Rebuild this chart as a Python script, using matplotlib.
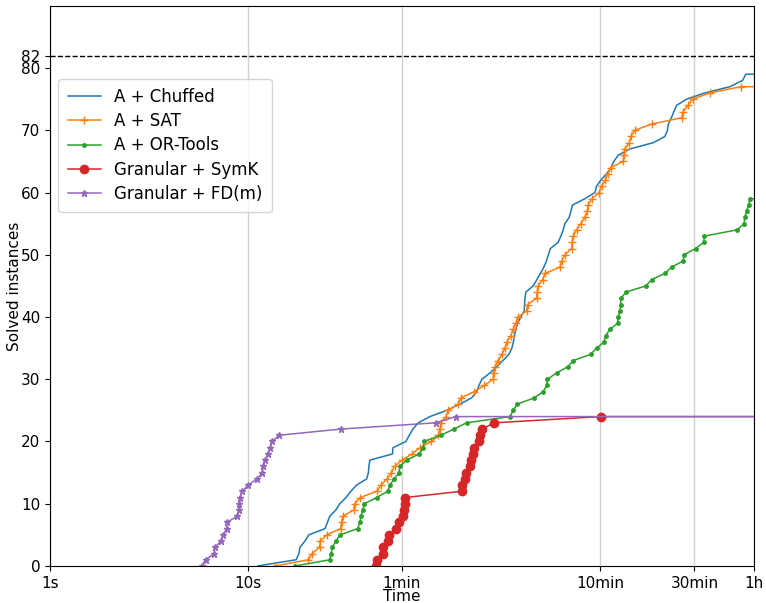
import matplotlib
matplotlib.use("Agg")
import matplotlib.pyplot as plt
from matplotlib.ticker import FixedLocator, NullLocator

# solve times (seconds) of each instance, sorted; the k-th entry is k solved
CHUFFED = [11.2, 17.5, 18.1, 18.3, 19.4, 20.3, 24.5, 25.2, 25.9, 27.8,
           29.1, 31.3, 33.1, 35.4, 39.8, 40.6, 40.8, 41.3, 53.7, 54.0,
           62.8, 65.3, 68.1, 72.5, 83.0, 100.8, 117.7, 134.8, 142.9, 146.8,
           152.0, 166.8, 180.4, 194.1, 208.1, 215.4, 219.2, 221.8, 225.7, 230.2,
           239.2, 248.6, 249.7, 250.6, 253.5, 276.0, 288.1, 300.1, 312.5, 321.8,
           329.4, 337.1, 369.2, 380.9, 391.2, 399.0, 419.5, 427.9, 436.4, 503.5,
           565.5, 576.8, 606.4, 647.8, 681.3, 705.6, 741.7, 849.7, 1114, 1277,
           1315, 1330, 1377, 1418, 1463, 1643, 2033, 2719, 3152, 3275]
SAT = [13.7, 20.2, 21.1, 23.0, 23.2, 25.0, 29.4, 29.7, 30.1, 34.2,
       34.6, 37.0, 44.7, 47.0, 50.4, 53.1, 55.0, 60.0, 67.4, 73.9,
       84.5, 91.6, 93.3, 94.3, 100.0, 102.7, 115.4, 119.1, 139.0, 156.1,
       173.4, 174.2, 176.8, 183.7, 191.8, 198.6, 203.3, 213.0, 218.0, 225.7,
       231.8, 255.6, 258.6, 287.1, 289.1, 292.5, 307.9, 316.2, 376.6, 384.1,
       399.0, 431.3, 434.4, 439.5, 457.2, 480.7, 503.5, 518.4, 523.3, 546.3,
       594.5, 611.5, 639.1, 657.9, 681.3, 786.3, 792.6, 801.8, 843.0, 859.7,
       900.5, 1094, 1550, 1579, 1674, 1762, 2154, 3090]
ORTOOLS = [17.3, 25.9, 26.3, 26.7, 27.8, 29.2, 35.8, 36.8, 37.2, 38.0,
           38.7, 44.7, 50.8, 52.1, 54.8, 57.9, 58.6, 63.3, 73.3, 76.8,
           77.4, 94.4, 109.7, 127.2, 210.5, 219, 229, 279, 310, 323,
           326, 362, 412, 440, 538, 577, 630, 641, 673, 736,
           741, 757, 763, 768, 811, 1024, 1094, 1277, 1380, 1579,
           1597, 1824, 2010, 2020, 2958, 3212, 3236, 3302, 3379, 3443]
SYMK = [44.3, 44.7, 47.9, 48.2, 51.1, 51.3, 55.9, 58.1, 60.9, 61.6,
        62.1, 62.3, 120.0, 120.3, 124.7, 125.7, 132.2, 133.2, 136.4, 138.5,
        146.8, 148.5, 152.6, 175.4, 606]
FDM = [5.84, 6.11, 6.76, 6.81, 7.30, 7.50, 7.80, 7.82, 8.83, 9.04,
       9.06, 9.11, 9.36, 10.03, 11.14, 11.81, 11.95, 12.19, 12.66, 12.92,
       13.27, 14.34, 29.5, 88.7, 112.7]

TIMEOUT = 3600
TOTAL = 82

SERIES = [
    ("A + Chuffed", CHUFFED, "#1f77b4", None, 6),
    ("A + SAT", SAT, "#ff7f0e", "+", 6),
    ("A + OR-Tools", ORTOOLS, "#2ca02c", ".", 5),
    ("Granular + SymK", SYMK, "#d62728", "o", 6),
    ("Granular + FD(m)", FDM, "#9467bd", "*", 5),
]

XTICKS = [1, 10, 60, 600, 1800, 3600]
XTICKLABELS = ["1s", "10s", "1min", "10min", "30min", "1h"]
YTICKS = [0, 10, 20, 30, 40, 50, 60, 70, 80, 82]

fig = plt.figure(figsize=(7.66, 6.03), dpi=100)
ax = fig.add_axes([0.0653, 0.0614, 0.919, 0.929])

for label, times, color, marker, ms in SERIES:
    xs = list(times) + [TIMEOUT]
    ys = list(range(len(times))) + [len(times) - 1]
    ax.plot(xs, ys, color=color, marker=marker, markersize=ms, lw=1.1,
            markevery=list(range(len(times))), label=label)

ax.axhline(TOTAL, color="black", ls="--", lw=1)

ax.set_xscale("log")
ax.set_xlim(1, TIMEOUT)
ax.set_ylim(0, 90)
ax.xaxis.set_major_locator(FixedLocator(XTICKS))
ax.set_xticklabels(XTICKLABELS)
ax.xaxis.set_minor_locator(NullLocator())
ax.set_yticks(YTICKS)
ax.tick_params(labelsize=11)
ax.grid(True, axis="x", color="#d0d0d0", lw=1)
ax.set_axisbelow(True)
ax.set_xlabel("Time", fontsize=11, labelpad=-1)
ax.set_ylabel("Solved instances", fontsize=11, labelpad=-1)

ax.legend(loc="upper left", bbox_to_anchor=(0, 0.885), fontsize=12,
          labelspacing=0.38, borderpad=0.55)

fig.savefig("out.png", dpi=100)
